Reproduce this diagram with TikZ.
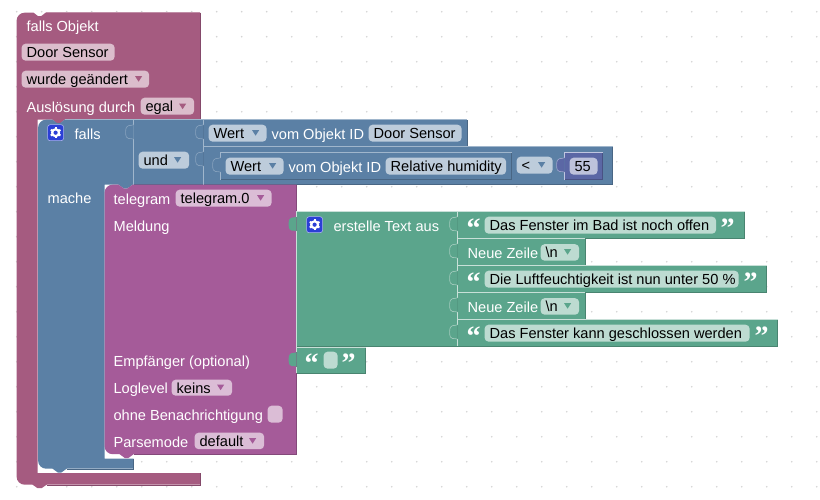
\documentclass[tikz,border=0pt]{standalone}
\usepackage{fontspec}
\setmainfont{Liberation Sans}
\newfontfamily\qfont{Liberation Serif}
\definecolor{pinkf}{HTML}{A55B80}\definecolor{pinkd}{HTML}{84496A}\definecolor{pinkl}{HTML}{C08DA6}\definecolor{pinkx}{HTML}{DBBDCC}
\definecolor{bluef}{HTML}{5B80A5}\definecolor{blued}{HTML}{496684}\definecolor{bluel}{HTML}{A0B6CC}\definecolor{bluex}{HTML}{BDCCDB}
\definecolor{violf}{HTML}{A55B99}\definecolor{viold}{HTML}{84497A}\definecolor{violl}{HTML}{C08DB8}\definecolor{violx}{HTML}{DBBDD6}
\definecolor{grnf}{HTML}{5BA58C}\definecolor{grnd}{HTML}{498470}\definecolor{grnl}{HTML}{C8E0D8}\definecolor{grnx}{HTML}{BDDBD1}
\definecolor{numf}{HTML}{5B67A5}\definecolor{numd}{HTML}{495284}\definecolor{numl}{HTML}{C0C6E0}\definecolor{numx}{HTML}{BDC2DB}
\definecolor{gearb}{HTML}{2B3FD6}
\tikzset{
  lbl/.style={anchor=base west,inner sep=0pt,outer sep=0pt,text=white,font=\fontsize{14.6}{16}\selectfont},
  fldtxt/.style={anchor=base west,inner sep=0pt,outer sep=0pt,text=black,font=\fontsize{14.6}{16}\selectfont},
  fieldbox/.style={rounded corners=4pt,draw=none},
  griddot/.style={fill=black!17,draw=none},
  edge/.style={line width=0.8pt},
  tabline/.style={line width=0.6pt},
  quotemark/.style={anchor=center,inner sep=0pt,outer sep=0pt,text=white,font=\qfont\bfseries\fontsize{28}{28}\selectfont}
}
\newcommand{\lab}[4]{\node[lbl] (#1) at (#2,#3+5.5) {#4};}
\newcommand{\fld}[7]{\fill[fieldbox,#6] (#2,#3) rectangle (#4,#5);
  \node[fldtxt] (#1) at (#2+5,{(#3+#5)/2+5.5}) {#7};}
\newcommand{\dd}[3]{\fill[#3] (#1-3.5,#2-2.5) -- (#1+3.5,#2-2.5) -- (#1,#2+3) -- cycle;}
\newcommand{\tabp}[2]{(#1,#2+19.5) .. controls (#1-3,#2+17.5) and (#1-8,#2+22) .. (#1-8,#2+12.5) .. controls (#1-8,#2+3) and (#1-3,#2+7) .. (#1,#2+5)}
\newcommand{\vb}[5]{\fill[#5f] (#1,#2) rectangle (#3,#4);
  \fill[#5f] \tabp{#1}{#2} -- cycle;
  \draw[edge,#5d] (#1,#4) -- (#3,#4) -- (#3,#2);
  \draw[edge,#5l] (#3,#2) -- (#1,#2) -- (#1,#2+5);
  \draw[edge,#5l] (#1,#2+19.5) -- (#1,#4);
  \draw[#5l!65!#5f,tabline] \tabp{#1}{#2};}
\newcommand{\gear}[3]{\fill[#3,draw=white!60!#3,line width=0.6pt,rounded corners=2.5pt] (#1,#2) rectangle (#1+16,#2+16);
  \foreach \a in {0,60,...,300}{\draw[white,line width=2pt] ({#1+8+3*cos(\a+30)},{#2+8+3*sin(\a+30)}) -- ({#1+8+5.6*cos(\a+30)},{#2+8+5.6*sin(\a+30)});}
  \fill[white] (#1+8,#2+8) circle[radius=4.6];
  \fill[#3] (#1+8,#2+8) circle[radius=2.1];}
\newcommand{\qo}[3]{\node[quotemark] (#1) at (#2,#3+3) {“};}
\newcommand{\qc}[3]{\node[quotemark] (#1) at (#2,#3+3) {”};}
\begin{document}
\begin{tikzpicture}[x=1pt,y=-1pt]
\useasboundingbox (0.4,0.3) rectangle (820.4,500.3);
\fill[white] (0.4,0.3) rectangle (820.4,500.3);
\foreach \i in {0,...,32}{\foreach \j in {0,...,19}{\fill[griddot] (17.1+25*\i,12+25*\j) circle[radius=0.9];}}
% pink outer block
\fill[pinkf] (200.5,13) -- (200.5,120) -- (65,120) -- (60.5,124) -- (57.5,124) -- (53,120) -- (38,120) -- (38,473.5) -- (200.5,473.5) -- (200.5,485) -- (47,485) -- (42,488.5) -- (38,488.5) -- (33,485) [rounded corners=8pt] -- (17,485) -- (17,13) [sharp corners] -- (34,13) -- (38.5,16.5) -- (41.5,16.5) -- (46,13) -- cycle;
\draw[edge,pinkd] (200.5,13) -- (200.5,120);
\draw[edge,pinkd] (47,485.2) -- (200.5,485.2) -- (200.5,473.5);
\draw[edge,pinkl] (46,13) -- (200.5,13);
% blue block
\fill[bluef] (134,120) -- (134,185) -- (133,185) -- (127.5,189) -- (124.5,189) -- (119,185) -- (105,185) -- (105,459) -- (134,459) -- (134,469) -- (67,469) -- (61.5,473) -- (58.5,473) -- (53,469) [rounded corners=8pt] -- (38.5,469) -- (38.5,120) [sharp corners] -- (53,120) -- (57.5,123.5) -- (60.5,123.5) -- (65,120) -- cycle;
\draw[edge,blued] (67,469.2) -- (134,469.2) -- (134,459);
\draw[edge,bluel] (65,120) -- (134,120);
% und block
\vb{134}{120}{204}{185}{blue}
% Wert door block
\vb{204}{120}{467.5}{147}{blue}
% relative row
\vb{204}{147}{613}{185}{blue}
\vb{221}{153}{512}{180}{blue}
\vb{565}{153}{603}{180}{num}
% purple block
\fill[violf] (297,185) -- (297,454.5) -- (134,454.5) -- (128.5,458.5) -- (125.5,458.5) -- (120,454.5) [rounded corners=8pt] -- (105,454.5) -- (105,185) [sharp corners] -- (119,185) -- (124.5,189) -- (127.5,189) -- (133,185) -- cycle;
\draw[edge,viold] (297,185) -- (297,454.5) -- (134,454.5);
% green blocks
\begin{scope}[tabline/.style={draw=none}]
\vb{297}{212}{458}{347}{grn}
\end{scope}
\vb{458}{212}{745}{238.7}{grn}
\vb{458}{239}{585.5}{265.7}{grn}
\vb{458}{266}{767}{292.7}{grn}
\vb{458}{293}{585.5}{319.7}{grn}
\vb{458}{320}{778}{346.7}{grn}
\begin{scope}[tabline/.style={draw=none}]
\vb{297}{347.5}{366}{373.7}{grn}
\end{scope}
% pink content
\lab{a1}{27}{26}{falls Objekt}
\fld{a2}{22}{44}{115}{61}{pinkx}{Door Sensor}
\fld{a3}{22}{71}{149.5}{88}{pinkx}{wurde geändert}\dd{139}{79}{pinkf}
\lab{a4}{27}{107}{Auslösung durch}
\fld{a5}{141}{98}{194.5}{115}{pinkx}{egal}\dd{183}{106.5}{pinkf}
% blue content
\gear{48}{125}{gearb}
\lab{b1}{75}{134}{falls}
\lab{b2}{48}{198}{mache}
\fld{b3}{139}{152}{189.5}{169}{bluex}{und}\dd{178}{160}{bluef}
\fld{b4}{209}{125}{267}{142}{bluex}{Wert}\dd{256}{133}{bluef}
\lab{b5}{272}{134}{vom Objekt ID}
\fld{b6}{369}{125}{462}{142}{bluex}{Door Sensor}
\fld{b7}{226}{158}{284}{175}{bluex}{Wert}\dd{273}{166}{bluef}
\lab{b8}{289}{167}{vom Objekt ID}
\fld{b9}{386}{158}{506.5}{175}{bluex}{Relative humidity}
\fld{b10}{517}{157}{553}{174}{bluex}{<}\dd{542}{165}{bluef}
\fld{b11}{570}{158}{598}{175}{numx}{55}
% purple content
\lab{c1}{114}{199}{telegram}
\fld{c2}{176}{190}{272}{207}{violx}{telegram.0}\dd{261}{198}{violf}
\lab{c3}{114}{226}{Meldung}
\lab{c4}{114}{361}{Empfänger (optional)}
\lab{c5}{114}{388}{Loglevel}
\fld{c6}{172}{380}{232.5}{396}{violx}{keins}\dd{221}{387.5}{violf}
\lab{c7}{114}{415}{ohne Benachrichtigung}
\fill[fieldbox,violx] (268,406) rectangle (283,423);
\lab{c8}{114}{442}{Parsemode}
\fld{c9}{195}{433}{264.5}{449.5}{violx}{default}\dd{253}{441}{violf}
% green content
\gear{307}{217}{gearb}
\lab{d1}{334}{226}{erstelle Text aus}
\qo{q1}{474}{225}\fld{d2}{485}{217}{716.5}{234}{grnx}{Das Fenster im Bad ist noch offen}\qc{q2}{728}{225}
\lab{d3}{468}{253}{Neue Zeile}
\fld{d4}{541}{244.5}{579.5}{261}{grnx}{\textbackslash n}\dd{568}{252}{grnf}
\qo{q3}{474}{279}\fld{d5}{485}{271}{739}{288}{grnx}{Die Luftfeuchtigkeit ist nun unter 50 \%}\qc{q4}{751}{279}
\lab{d6}{468}{307}{Neue Zeile}
\fld{d7}{541}{298.5}{579.5}{315}{grnx}{\textbackslash n}\dd{568}{306}{grnf}
\qo{q5}{474}{333}\fld{d8}{485}{325}{750}{342}{grnx}{Das Fenster kann geschlossen werden}\qc{q6}{762}{333}
\qo{q7}{312}{360}\fill[fieldbox,grnx] (324,352) rectangle (338,369);\qc{q8}{349}{360}
\end{tikzpicture}
\end{document}
